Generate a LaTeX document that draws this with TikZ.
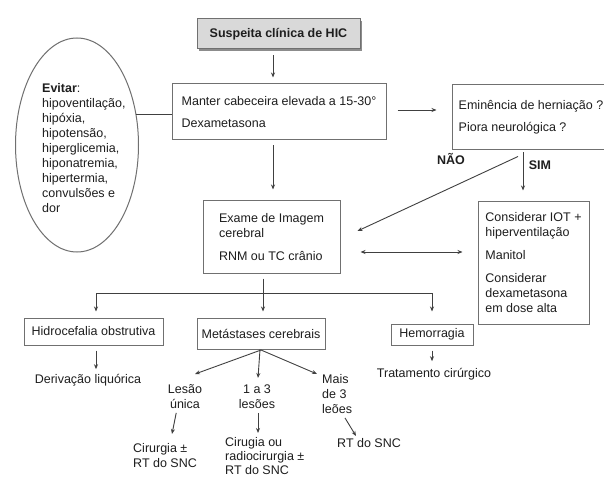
\documentclass[tikz,border=0pt]{standalone}
\usepackage{fontspec}
\setmainfont{Liberation Sans}
\usetikzlibrary{arrows.meta,shadows,shapes.geometric}
\definecolor{txt}{HTML}{1E1E1E}
\definecolor{lnc}{HTML}{404040}
\definecolor{bd}{HTML}{707070}
\newcommand\fs{\fontsize{12.5}{15}\selectfont}
\begin{document}
\begin{tikzpicture}[x=1pt,y=-1pt,
  font=\fs, text=txt,
  box/.style={draw=bd, line width=1pt, rectangle, inner sep=0pt, align=left, text=txt, font=\fs},
  lbl/.style={inner sep=0pt, text=txt, font=\fs},
  arr/.style={draw=lnc, line width=0.9pt, -{Stealth[length=5pt,width=4pt]}},
  dbl/.style={draw=lnc, line width=0.9pt, {Stealth[length=5pt,width=4pt]}-{Stealth[length=5pt,width=4pt]}},
  lnk/.style={draw=lnc, line width=0.9pt}]
\useasboundingbox (0,0) rectangle (604,478);
\fill[white] (0,0) rectangle (604,478);

% boxes
\node[box, fill=black!15, drop shadow={shadow xshift=2pt, shadow yshift=-2pt, fill=black!45, opacity=1},
      minimum width=163, minimum height=30, font=\fs\bfseries] (susp) at (278.5,34) {Suspeita clínica de HIC};
\node[box, minimum width=214, minimum height=56] (manter) at (279,112)
  {Manter cabeceira elevada a 15-30°\\[7pt]Dexametasona};
\node[box, minimum width=158, minimum height=65] (emin) at (531,117.5)
  {Eminência de herniação ?\\[7pt]Piora neurológica ?};
\node[box, minimum width=137, minimum height=72] (exame) at (271.5,237)
  {Exame de Imagem\\cerebral\\[8pt]RNM ou TC crânio};
\node[box, minimum width=111, minimum height=122] (cons) at (533.5,263)
  {Considerar IOT +\\hiperventilação\\[8pt]Manitol\\[8pt]Considerar\\dexametasona\\em dose alta};
\node[box, minimum width=139, minimum height=27] (hidro) at (93.5,331.5) {Hidrocefalia obstrutiva};
\node[box, minimum width=128, minimum height=31] (meta) at (261,333.5) {Metástases cerebrais};
\node[box, minimum width=82, minimum height=21] (hemo) at (432,334.5) {Hemorragia};

% ellipse
\node[ellipse, draw=bd, line width=1pt, minimum width=123, minimum height=214, inner sep=0pt] (evitar) at (77,145) {};
\node[lbl, align=left, anchor=mid west] (evtxt) at (42,210)
  {\textbf{Evitar}:\\hipoventilação,\\hipóxia,\\hipotensão,\\hiperglicemia,\\hiponatremia,\\hipertermia,\\convulsões e\\dor};

% free texts
\node[lbl, font=\fs\bfseries, anchor=mid] (nao) at (451,162) {NÃO};
\node[lbl, font=\fs\bfseries, anchor=mid] (sim) at (540,167) {SIM};
\node[lbl, anchor=mid] (deriv) at (88,381) {Derivação liquórica};
\node[lbl, anchor=mid] (trat) at (434,375) {Tratamento cirúrgico};
\node[lbl, align=center, anchor=mid] (lesao) at (185,406) {Lesão\\única};
\node[lbl, align=center, anchor=mid] (um3) at (257,406) {1 a 3\\lesões};
\node[lbl, align=left, anchor=mid west] (mais) at (322,411) {Mais\\de 3\\leões};
\node[lbl, align=left, anchor=mid west] (cir1) at (133,465) {Cirurgia ±\\RT do SNC};
\node[lbl, align=left, anchor=mid west, font=\fontsize{12.5}{14}\selectfont] (cir2) at (225,472) {Cirugia ou\\radiocirurgia ±\\RT do SNC};
\node[lbl, anchor=mid west] (rt3) at (337,445) {RT do SNC};

% connectors
\draw[arr, shorten <=6pt, shorten >=6pt] ([xshift=-5.5pt]susp.south) -- ([xshift=-6pt]manter.north);
\draw[arr, shorten <=5pt, shorten >=11pt] ([xshift=-6pt]manter.south) -- ([xshift=1.5pt]exame.north);
\draw[lnk] (evitar.27) -- (evitar.27 -| manter.west);
\draw[arr, shorten <=11pt, shorten >=15pt] ([yshift=2pt]manter.east) -- ([yshift=2pt]manter.east -| emin.west);
\draw[arr, shorten <=2pt, shorten >=11pt] ([xshift=-8pt]emin.south) -- ([xshift=-8pt]emin.south |- cons.north);
\draw[arr] ([xshift=-13pt,yshift=-6pt]emin.south) -- ([xshift=17pt,yshift=6pt]exame.east);
\draw[dbl, shorten <=20pt, shorten >=15pt] ([yshift=-15pt]exame.east) -- ([yshift=-15pt]exame.east -| cons.west);
\draw[arr, shorten <=5pt, shorten >=6pt] ([xshift=-8.5pt]exame.south) -- ([xshift=2pt]meta.north);
\coordinate (bL) at (96,293);
\coordinate (bR) at (432,293);
\draw[lnk] (bL) -- (bR);
\draw[arr, shorten >=6pt] (bL) -- (bL |- hidro.north);
\draw[arr, shorten >=12pt] (bR) -- (bR |- hemo.north);
\draw[arr, shorten <=5pt, shorten >=5pt] (hidro.south -| bL) -- (deriv.north -| bL);
\draw[arr, shorten <=5pt, shorten >=7pt] (hemo.south) -- (hemo.south |- trat.north);
\coordinate (tL) at (195,374);
\coordinate (tM) at (258,378);
\coordinate (tR) at (317,374);
\draw[arr] ([yshift=-0.5pt]meta.south) -- (tL);
\draw[arr] ([xshift=-1pt]meta.south) -- (tM);
\draw[arr] ([yshift=-0.5pt]meta.south) -- (tR);
\coordinate (c1) at (172,434);
\coordinate (c2) at (258,433);
\coordinate (c3) at (356,436);
\draw[arr, shorten <=4pt] ([xshift=-8pt]lesao.south) -- (c1);
\draw[arr, shorten <=4pt] (lesao.south -| c2) -- (c2);
\draw[arr] ([xshift=23pt,yshift=-4pt]mais.south west) -- (c3);
\end{tikzpicture}
\end{document}
